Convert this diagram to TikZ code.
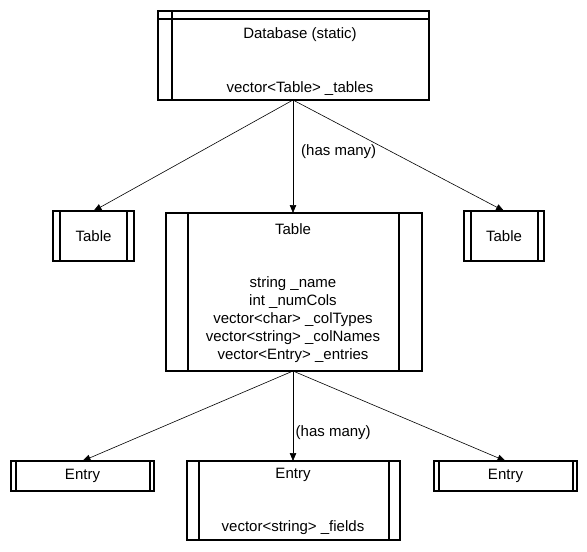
\documentclass[tikz,border=0pt]{standalone}
\usepackage{fontspec}
\setmainfont{Liberation Sans}
\usetikzlibrary{arrows.meta}
\begin{document}
\begin{tikzpicture}[x=1pt,y=-1pt,
  font=\fontsize{15}{18}\selectfont,
  box/.style={draw, line width=2pt, rectangle, inner sep=0pt, outer sep=0pt},
  boxline/.style={line width=2pt},
  txt/.style={inner sep=0pt, anchor=center},
  conn/.style={line width=0.6pt, -{Triangle[length=8pt,width=6.5pt]}},
  lbl/.style={inner sep=0pt, anchor=west}]
\useasboundingbox (0,0) rectangle (587,552);
% Database
\node[box, minimum width=271pt, minimum height=89pt] (db) at (293.5,55.5) {};
\draw[boxline] ([yshift=-8pt]db.north west) -- ([yshift=-8pt]db.north east);
\draw[boxline] ([xshift=14pt]db.north west) -- ([xshift=14pt]db.south west);
\node[txt] (dbt) at (300,34.5) {Database (static)};
\node[txt] (dbf) at (300,88.5) {vector<Table> \_tables};
% Tables
\node[box, minimum width=81pt, minimum height=50pt] (t1) at (93.5,236) {Table};
\draw[boxline] ([xshift=7pt]t1.north west) -- ([xshift=7pt]t1.south west);
\draw[boxline] ([xshift=-7pt]t1.north east) -- ([xshift=-7pt]t1.south east);
\node[box, minimum width=80pt, minimum height=50pt] (t3) at (504,236) {Table};
\draw[boxline] ([xshift=6.5pt]t3.north west) -- ([xshift=6.5pt]t3.south west);
\draw[boxline] ([xshift=-6.5pt]t3.north east) -- ([xshift=-6.5pt]t3.south east);
\node[box, minimum width=256pt, minimum height=158pt] (t2) at (294,292) {};
\draw[boxline] ([xshift=22pt]t2.north west) -- ([xshift=22pt]t2.south west);
\draw[boxline] ([xshift=-23pt]t2.north east) -- ([xshift=-23pt]t2.south east);
\node[txt] (t2t) at (293,229.5) {Table};
\node[txt, align=center] (t2f) at (293,319.5) {string \_name\\int \_numCols\\vector<char> \_colTypes\\vector<string> \_colNames\\vector<Entry> \_entries};
% Entries
\node[box, minimum width=143pt, minimum height=30pt] (e1) at (82.5,476) {Entry};
\draw[boxline] ([xshift=4.5pt]e1.north west) -- ([xshift=4.5pt]e1.south west);
\draw[boxline] ([xshift=-4.5pt]e1.north east) -- ([xshift=-4.5pt]e1.south east);
\node[box, minimum width=143pt, minimum height=30pt] (e3) at (505.5,476) {Entry};
\draw[boxline] ([xshift=4.5pt]e3.north west) -- ([xshift=4.5pt]e3.south west);
\draw[boxline] ([xshift=-4.5pt]e3.north east) -- ([xshift=-4.5pt]e3.south east);
\node[box, minimum width=213pt, minimum height=79pt] (e2) at (293.5,500.5) {};
\draw[boxline] ([xshift=12pt]e2.north west) -- ([xshift=12pt]e2.south west);
\draw[boxline] ([xshift=-11pt]e2.north east) -- ([xshift=-11pt]e2.south east);
\node[txt] (e2t) at (293,474.5) {Entry};
\node[txt] (e2f) at (293,528) {vector<string> \_fields};
% connectors
\coordinate (dbs) at (293,100);
\coordinate (t2s) at (293,371);
\draw[conn] (dbs) -- (t1.north);
\draw[conn] (dbs) -- (t2.north -| dbs);
\draw[conn] (dbs) -- (t3.north);
\draw[conn] (t2s) -- (e1.north);
\draw[conn] (t2s) -- (e2.north -| t2s);
\draw[conn] (t2s) -- (e3.north);
\node[lbl] (l1) at (301,152) {(has many)};
\node[lbl] (l2) at (295.5,432.5) {(has many)};
\end{tikzpicture}
\end{document}
